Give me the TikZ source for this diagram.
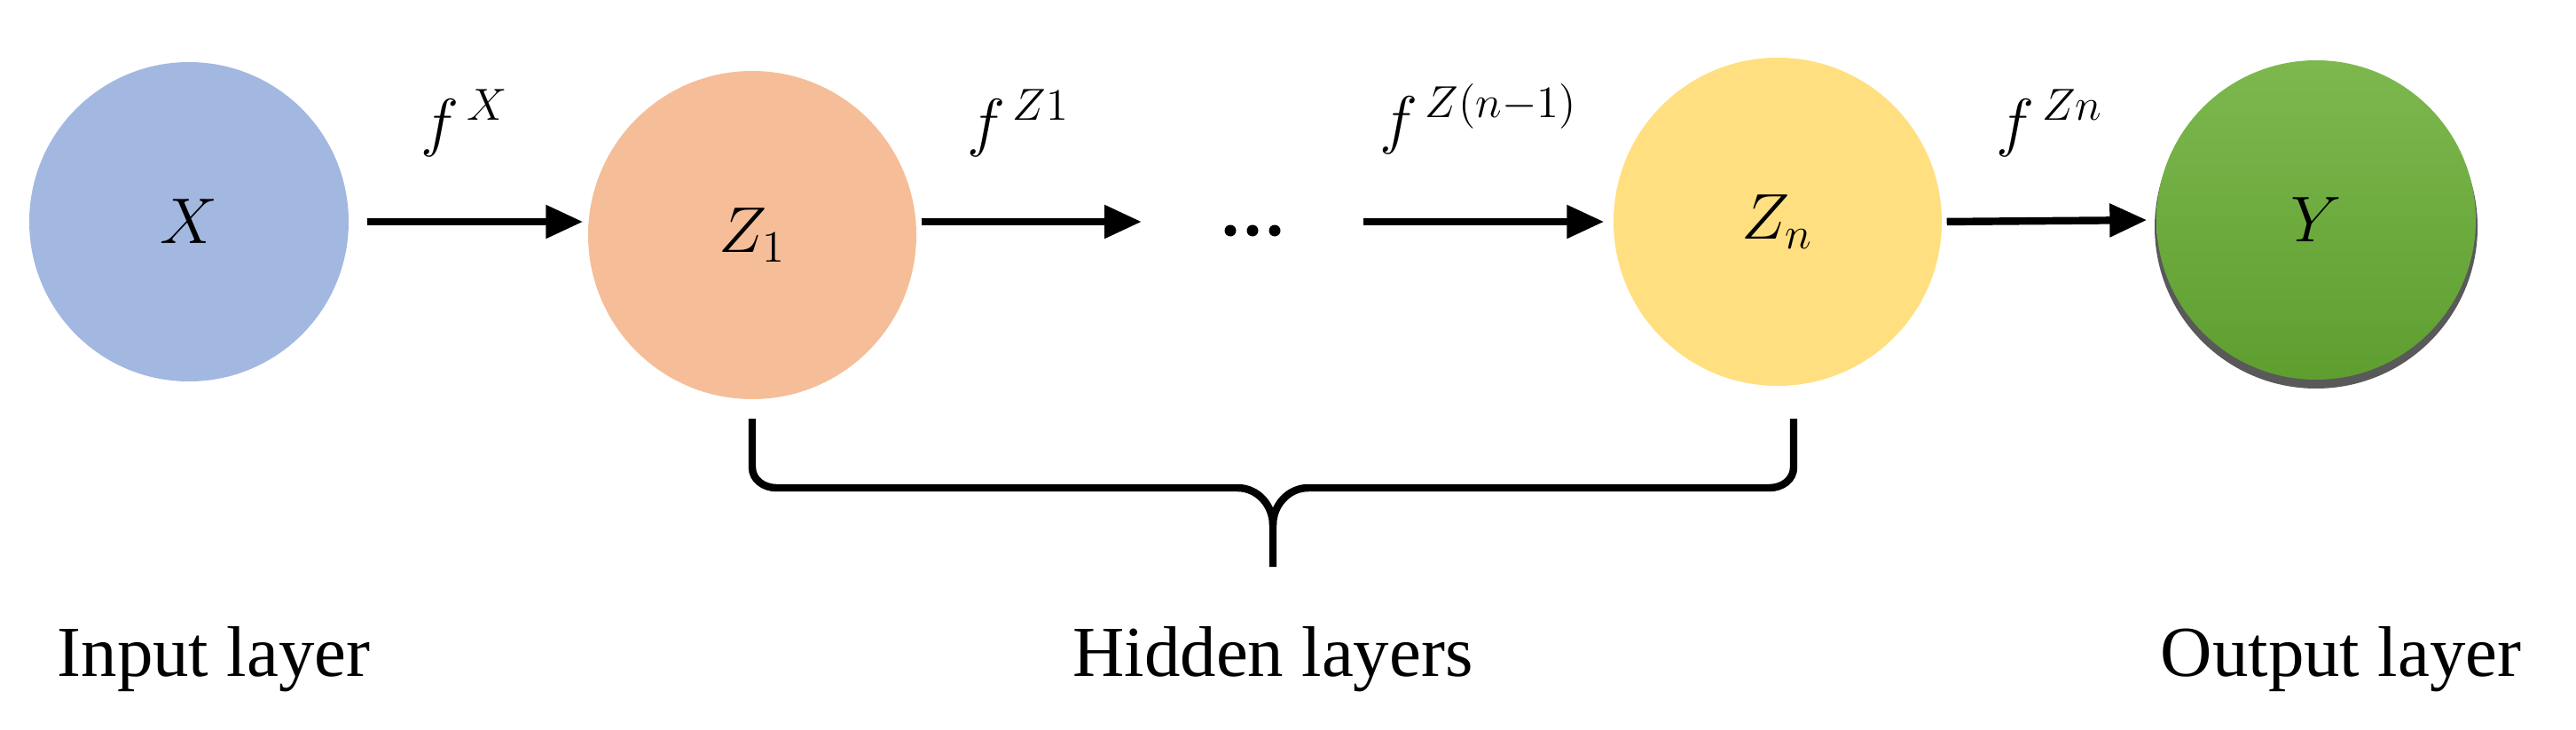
\documentclass[tikz,border=0pt]{standalone}
\usepackage{fontspec}
\setmainfont{Liberation Serif}
\usetikzlibrary{arrows.meta}
\definecolor{cx}{HTML}{A3B8E0}
\definecolor{cz}{HTML}{F5BE98}
\definecolor{cn}{HTML}{FFDF80}
\definecolor{cyt}{HTML}{7DB84F}
\definecolor{cyb}{HTML}{5E9E2F}
\tikzset{
  layer/.style={circle,minimum size=3.6cm,inner sep=0pt,font=\fontsize{22}{26}\selectfont},
  conn/.style={line width=2.4pt,-{Triangle[length=0.42cm,width=0.36cm]}},
  lbl/.style={font=\fontsize{22}{26}\selectfont},
  captxt/.style={font=\fontsize{23}{28}\selectfont,anchor=base},
  dotm/.style={circle,fill=black,inner sep=0pt,minimum size=0.13cm}
}
\begin{document}
\begin{tikzpicture}
\useasboundingbox (0,0) rectangle (29.04,8.22);
\node[layer,fill=cx] (X) at (2.13,5.72) {$X$};
\node[layer,fill=cz,minimum size=3.7cm] (Z1) at (8.48,5.57) {$Z_1$};
\node[layer,fill=cn,minimum size=3.7cm] (Zn) at (20.04,5.72) {$Z_n$};
\fill[black!65] (26.11,5.66) circle (1.82cm);
\node[layer,top color=cyt,bottom color=cyb] (Y) at (26.11,5.74) {$Y$};
\node[dotm] (d1) at (13.87,5.62) {};
\node[dotm] (d2) at (14.12,5.62) {};
\node[dotm] (d3) at (14.37,5.62) {};
\coordinate (a1) at (12.87,5.72);
\coordinate (a2) at (15.37,5.72);
\draw[conn,shorten <=0.2cm,shorten >=0.05cm] (X.east) -- (Z1.west |- X.east);
\draw[conn,shorten <=0.05cm] (Z1.east |- a1) -- (a1);
\draw[conn,shorten >=0.1cm] (a2) -- (Zn.west);
\draw[conn,shorten <=0.05cm,shorten >=0.1cm] (Zn.east) -- (Y.west);
\node[lbl] (l1) at (5.24,6.83) {$f^{\,X}$};
\node[lbl] (l2) at (11.48,6.83) {$f^{\,Z1}$};
\node[lbl] (l3) at (16.67,6.88) {$f^{\,Z(n-1)}$};
\node[lbl] (l4) at (23.11,6.83) {$f^{\,Zn}$};
\draw[line width=2.4pt,line join=round] (8.48,3.5) -- (8.48,2.95) to[out=-90,in=180] (8.75,2.72) -- (13.95,2.72) to[out=0,in=90] (14.35,2.3) -- (14.35,1.83);
\draw[line width=2.4pt,line join=round] (20.22,3.5) -- (20.22,2.95) to[out=-90,in=0] (19.95,2.72) -- (14.75,2.72) to[out=180,in=90] (14.35,2.3);
\node[captxt] (t1) at (2.41,0.6) {Input layer};
\node[captxt] (t2) at (14.35,0.6) {Hidden layers};
\node[captxt] (t3) at (26.39,0.6) {Output layer};
\end{tikzpicture}
\end{document}
